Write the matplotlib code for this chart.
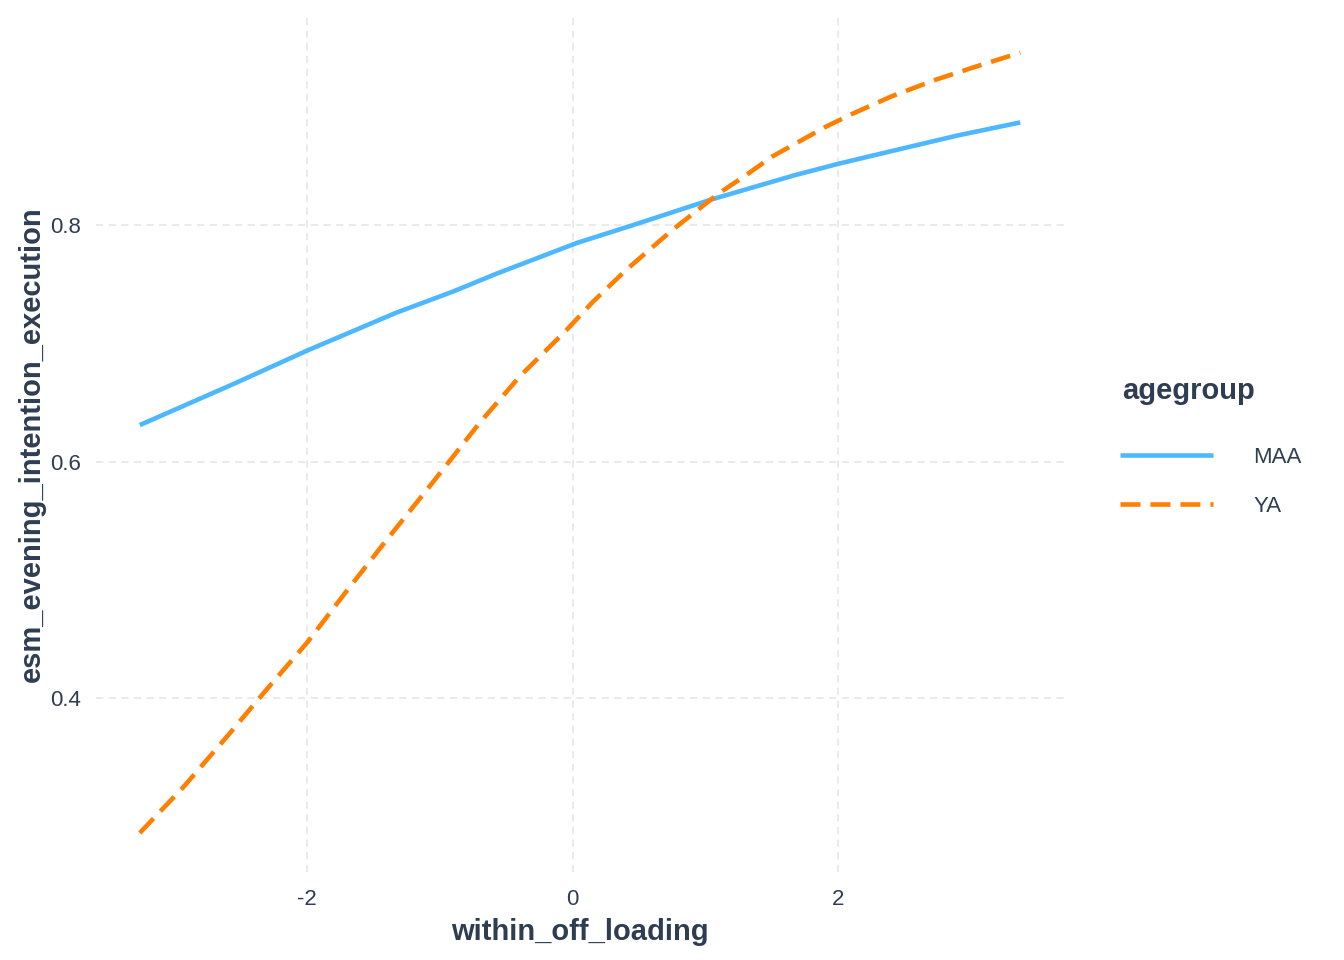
import matplotlib.pyplot as plt

# values
maa_x = [-3.26, -2.55, -2.00, -1.33, -0.90, -0.575, 0.03, 0.45, 1.05, 1.66, 2.00, 2.41, 2.90, 3.37]
maa_y = [0.631, 0.666, 0.694, 0.726, 0.744, 0.759, 0.785, 0.800, 0.822, 0.842, 0.852, 0.863, 0.876, 0.887]

ya_x = [-3.26, -2.93, -2.60, -2.30, -2.00, -1.70, -1.40, -1.10, -0.70, -0.40, -0.05,
        0.15, 0.40, 0.75, 1.10, 1.30, 1.50, 1.90, 2.10, 2.40, 2.73, 3.03, 3.37]
ya_y = [0.286, 0.325, 0.368, 0.408, 0.447, 0.491, 0.534, 0.576, 0.633, 0.672, 0.711,
        0.735, 0.762, 0.796, 0.827, 0.842, 0.858, 0.883, 0.894, 0.909, 0.923, 0.934, 0.946]

groups = ["MAA", "YA"]
x_ticks = [-2, 0, 2]
y_ticks = [0.4, 0.6, 0.8]

TEXT = "#2E3D52"
plt.rcParams["font.family"] = ["Liberation Sans", "DejaVu Sans"]

fig = plt.figure(figsize=(13.44, 9.6), dpi=100)
ax = fig.add_axes([0.0714, 0.0917, 0.7203, 0.8916])

ax.plot(maa_x, maa_y, color="#4DB8FF", lw=3.3, solid_capstyle="butt", label=groups[0])
ax.plot(ya_x, ya_y, color="#FF7F00", lw=3.3, dashes=(4.36, 2.18),
        dash_capstyle="butt", label=groups[1])

ax.set_xlim(-3.59, 3.70)
ax.set_ylim(0.253, 0.977)
ax.set_xticks(x_ticks)
ax.set_xticklabels([str(t) for t in x_ticks])
ax.set_yticks(y_ticks)
ax.set_yticklabels([f"{t:.1f}" for t in y_ticks])

ax.grid(True, color="#E8E8E8", lw=1.3, ls=(0, (4, 3)))
ax.set_axisbelow(True)
for s in ax.spines.values():
    s.set_visible(False)
ax.tick_params(axis="both", length=0, labelsize=16, colors=TEXT)
ax.tick_params(axis="x", pad=12)
ax.tick_params(axis="y", pad=11)

ax.set_xlabel("within_off_loading", fontsize=21, fontweight="bold", color=TEXT, labelpad=6)
ax.set_ylabel("esm_evening_intention_execution", fontsize=21, fontweight="bold",
              color=TEXT, labelpad=3)

# legend title drawn separately so the gap to the keys can match
fig.text(1122 / 1344, 1 - 391 / 960, "agegroup", fontsize=21, fontweight="bold",
         color=TEXT, ha="left", va="center")
leg = fig.legend(loc="upper left", bbox_to_anchor=(1100 / 1344, 1 - 427 / 960),
                 frameon=False, fontsize=16,
                 handlelength=4.19, handletextpad=1.8, labelspacing=1.25)
for t in leg.get_texts():
    t.set_color(TEXT)

fig.savefig("out.png", dpi=100)
